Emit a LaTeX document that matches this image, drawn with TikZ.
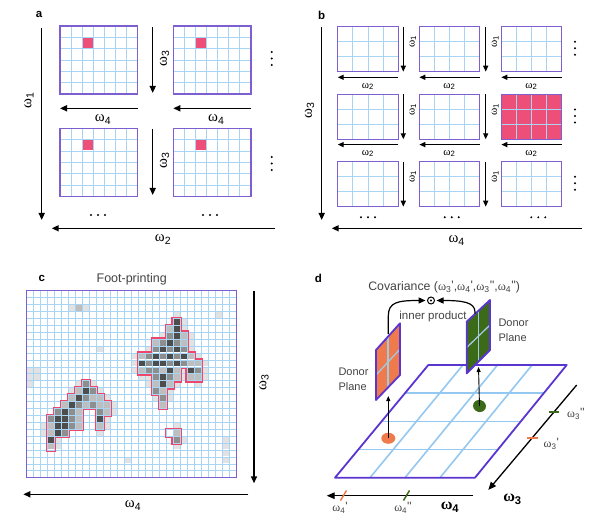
\documentclass[tikz,border=0pt]{standalone}
\usepackage{fontspec}
\setmainfont{Liberation Sans}
\newfontfamily\omf{Liberation Serif}
\usetikzlibrary{arrows.meta,calc,shapes.geometric}
\definecolor{gridb}{HTML}{A9D5F5}
\definecolor{floorb}{HTML}{94C8F0}
\definecolor{frm}{HTML}{7D5FD0}
\definecolor{frmd}{HTML}{5A35D0}
\definecolor{pnk}{HTML}{EE4F78}
\definecolor{redo}{HTML}{F0466A}
\definecolor{gD}{HTML}{4D4D4D}
\definecolor{gM}{HTML}{8E8E8E}
\definecolor{gL}{HTML}{BEBEBE}
\definecolor{gH}{HTML}{E2E2E2}
\definecolor{orn}{HTML}{EF7A4B}
\definecolor{grn}{HTML}{3B6A18}
\definecolor{txt}{HTML}{444444}
\definecolor{crossb}{HTML}{A2C8E2}
\newcommand\om[1]{{\omf ω}\textsubscript{#1}}
\newcommand\omp[2]{{\omf ω}\textsubscript{#1}\raisebox{0.1ex}{#2}}
\newcommand\qs{\textquotesingle}
\tikzset{
 gl/.style={draw=gridb, line width=0.9pt},
 floorgl/.style={draw=floorb, line width=1.6pt},
 frame/.style={draw=frm, line width=1.1pt},
 arr/.style={-{Triangle[length=7pt,width=6pt]}, line width=1.5pt},
 sarr/.style={-{Triangle[length=6pt,width=5pt]}, line width=1.3pt},
 tarr/.style={-{Triangle[length=5pt,width=4pt]}, line width=0.9pt},
 lab/.style={font=\fontsize{15}{15}\selectfont, inner sep=0pt},
 slab/.style={font=\fontsize{11}{11}\selectfont, inner sep=0pt},
 dlab/.style={font=\fontsize{12}{12}\selectfont, inner sep=0pt, text=txt},
 blab/.style={font=\fontsize{16}{16}\selectfont\bfseries, inner sep=0pt},
 panel/.style={font=\bfseries\fontsize{11.5}{11.5}\selectfont, inner sep=0pt},
 ttext/.style={font=\fontsize{11.5}{15}\selectfont, text=txt, inner sep=0pt},
 plane/.style={draw=frmd, line width=1.8pt, line join=round},
}
\newcommand\gridbox[7]{%
 \fill[#7] (#1,#2) rectangle (#3,#4);
 \foreach \i in {1,...,#5}{\draw[gl] ({#1+(#3-#1)*\i/(#5+1)},#2) -- ({#1+(#3-#1)*\i/(#5+1)},#4);}
 \foreach \j in {1,...,#6}{\draw[gl] (#1,{#2+(#4-#2)*\j/(#6+1)}) -- (#3,{#2+(#4-#2)*\j/(#6+1)});}
 \draw[frame] (#1,#2) rectangle (#3,#4);
}
\def\blobs{8/13,7/14,8/14,9/14,6/15,7/15,8/15,9/15,10/15,5/16,6/16,7/16,8/16,9/16,10/16,11/16,4/17,5/17,6/17,7/17,10/17,11/17,3/18,4/18,5/18,6/18,7/18,10/18,3/19,4/19,5/19,6/19,7/19,10/19,3/20,4/20,5/20,3/21,3/22,%
21/4,20/5,21/5,20/6,21/6,22/6,18/7,19/7,20/7,21/7,22/7,18/8,19/8,20/8,21/8,22/8,16/9,17/9,18/9,19/9,20/9,21/9,22/9,23/9,16/10,17/10,18/10,19/10,20/10,21/10,22/10,23/10,24/10,16/11,17/11,18/11,19/11,20/11,21/11,23/11,24/11,18/12,19/12,20/12,21/12,23/12,24/12,18/13,19/13,20/13,18/14,19/14,19/15,19/16,%
20/20,21/20,21/21}
\def\darkc{8/14,7/15,6/16,5/17,4/18,5/18,4/19,5/19,10/18,4/20,3/21,21/4,21/5,21/6,20/7,19/8,21/8,18/9,20/9,22/9,16/10,18/10,19/10,21/10,20/11,23/11,19/12,19/13}
\def\midc{8/13,9/14,8/15,7/16,9/16,4/17,6/17,10/17,3/18,6/18,6/19,5/20,20/6,19/7,21/7,18/8,20/8,22/8,17/9,19/9,21/9,17/10,20/10,22/10,17/11,18/11,24/11,18/12,20/12,18/14,19/15,21/21}
\def\lightc{7/14,6/15,9/15,10/15,5/16,8/16,10/16,11/16,7/17,11/17,7/18,3/19,7/19,10/19,3/20,3/22,20/5,22/6,18/7,22/7,16/9,23/9,23/10,24/10,16/11,19/11,21/11,21/12,23/12,24/12,18/13,20/13,19/14,19/16,21/20,7/2}
\def\haloc{9/13,10/14,11/15,12/16,12/17,11/18,11/19,10/20,2/19,2/20,4/21,4/22,7/13,6/14,21/3,22/4,22/5,23/6,23/7,23/8,24/9,25/10,25/11,25/12,24/13,22/11,22/12,21/13,20/14,20/15,18/15,15/9,15/10,15/11,16/12,17/12,17/13,17/8,19/6,6/2,8/2,10/8,0/11,1/11,0/12,1/12,0/13,14/24,28/21,28/22,28/23,28/24,27/3,21/19,22/21,21/22}
\begin{document}
\begin{tikzpicture}[x=1pt,y=-1pt]
\useasboundingbox (0,0) rectangle (610,529);
\fill[white] (0,0) rectangle (610,529);
% ================= Panel a
\node[panel] (pa) at (39,14) {a};
\foreach \x in {60,173.3}{\foreach \y in {26,128.3}{
 \gridbox{\x}{\y}{\x+77.7}{\y+68}{6}{5}{white}
 \fill[pnk] ({\x+22.8},{\y+11.9}) rectangle ({\x+32.7},{\y+22.1});
}}
\coordinate (a1s) at (41.7,28); \coordinate (a1e) at (41.7,220);
\draw[arr] (a1s) -- (a1e);
\node[lab, rotate=90] (la1) at (29,100) {\om{1}};
\coordinate (a2s) at (275,228.3); \coordinate (a2e) at (51.7,228.3);
\draw[arr] (a2s) -- (a2e);
\node[lab] (la2) at (163,239.5) {\om{2}};
\foreach \y/\n in {27/1,129/2}{
 \coordinate (a3s\n) at (152.7,\y); \coordinate (a3e\n) at (152.7,\y+66);
 \draw[arr] (a3s\n) -- (a3e\n);
 \node[lab, rotate=90] (la3\n) at (164.5,\y+31) {\om{3}};
}
\foreach \x/\n in {60/1,173.3/2}{
 \coordinate (a4s\n) at (\x+77.7,108.3); \coordinate (a4e\n) at (\x,108.3);
 \draw[arr] (a4s\n) -- (a4e\n);
 \node[lab] (la4\n) at (\x+43,119.5) {\om{4}};
}
\foreach \y in {58.5,163.5}{\foreach \d in {-6.5,0,6.5}{\fill (271.7,\y+\d) circle (1.1);}}
\foreach \x in {98,210}{\foreach \d in {-7,0,7}{\fill (\x+\d,215) circle (1.1);}}
% ================= Panel b
\node[panel] (pb) at (321.7,15) {b};
\foreach \x/\i in {337.7/1,419.3/2,501.3/3}{\foreach \y/\j in {26.7/1,94.3/2,161.7/3}{
 \ifnum\i\j=32 \gridbox{\x}{\y}{\x+60.5}{\y+45}{3}{2}{pnk}\else \gridbox{\x}{\y}{\x+60.5}{\y+45}{3}{2}{white}\fi
}}
\foreach \x/\i in {403.3/1,485.7/2}{\foreach \y/\j in {26.7/1,94.3/2,161.7/3}{
 \coordinate (b1s\i\j) at (\x,\y); \coordinate (b1e\i\j) at (\x,\y+45);
 \draw[sarr] (b1s\i\j) -- (b1e\i\j);
 \node[slab, rotate=90] (lb1\i\j) at (\x+9.5,\y+15) {\om{1}};
}}
\foreach \x/\i in {337.7/1,419.3/2,501.3/3}{\foreach \y/\j in {77.3/1,144.6/2}{
 \coordinate (b2s\i\j) at (\x+60.5,\y); \coordinate (b2e\i\j) at (\x,\y);
 \draw[sarr] (b2s\i\j) -- (b2e\i\j);
 \node[slab] (lb2\i\j) at (\x+30.2,\y+9) {\om{2}};
}}
\foreach \y in {48.3,116,183.3}{\foreach \d in {-6.5,0,6.5}{\fill (575,\y+\d) circle (1.1);}}
\foreach \x in {368,451.7,538.3}{\foreach \d in {-7,0,7}{\fill (\x+\d,217.3) circle (1.1);}}
\coordinate (b3s) at (321.7,26.7); \coordinate (b3e) at (321.7,220);
\draw[arr] (b3s) -- (b3e);
\node[lab, rotate=90] (lb3) at (309.5,110) {\om{3}};
\coordinate (b4s) at (581.7,228.3); \coordinate (b4e) at (331.7,228.3);
\draw[arr] (b4s) -- (b4e);
\node[lab] (lb4) at (456.7,240.5) {\om{4}};
% ================= Panel c
\node[panel] (pc) at (41.7,278.3) {c};
\node[ttext, font=\fontsize{12.5}{14}\selectfont] (fp) at (131.7,279.5) {Foot-printing};
\fill[white] (26.7,290.7) rectangle (236.1,477.8);
\foreach \c/\r in \haloc {\fill[gH] ({26.7+6.98*\c+0.6},{290.7+6.93*\r+0.6}) rectangle ++(5.78,5.73);}
\foreach \i in {1,...,29}{\draw[gl, line width=0.8pt] ({26.7+6.98*\i},290.7) -- ++(0,187.1);}
\foreach \j in {1,...,26}{\draw[gl, line width=0.8pt] (26.7,{290.7+6.93*\j}) -- ++(209.4,0);}
\foreach \c/\r in \blobs {\draw[redo, line width=3.6pt] ({26.7+6.98*\c},{290.7+6.93*\r}) rectangle ++(6.98,6.93);}
\foreach \c/\r in \blobs {\fill[white] ({26.7+6.98*\c},{290.7+6.93*\r}) rectangle ++(6.98,6.93);}
\foreach \c/\r in \darkc {\fill[gD] ({26.7+6.98*\c+0.6},{290.7+6.93*\r+0.6}) rectangle ++(5.78,5.73);}
\foreach \c/\r in \midc {\fill[gM] ({26.7+6.98*\c+0.6},{290.7+6.93*\r+0.6}) rectangle ++(5.78,5.73);}
\foreach \c/\r in \lightc {\fill[gL] ({26.7+6.98*\c+0.6},{290.7+6.93*\r+0.6}) rectangle ++(5.78,5.73);}
\foreach \c/\r in \blobs {\draw[gl, line width=0.8pt] ({26.7+6.98*\c},{290.7+6.93*\r}) rectangle ++(6.98,6.93);}
\draw[frame] (26.7,290.7) rectangle (236.1,477.8);
\coordinate (c3s) at (254,290.7); \coordinate (c3e) at (254,483.3);
\draw[arr] (c3s) -- (c3e);
\node[lab, rotate=90] (lc3) at (264,382) {\om{3}};
\coordinate (c4s) at (248.3,494.3); \coordinate (c4e) at (23.3,494.3);
\draw[arr] (c4s) -- (c4e);
\node[lab] (lc4) at (133,505.5) {\om{4}};
% ================= Panel d
\node[panel] (pd) at (318.3,278.3) {d};
\node[dlab, font=\fontsize{12.3}{13}\selectfont] (cov) at (444.2,287) {Covariance (\omp{3}{\qs},\omp{4}{\qs},\omp{3}{\qs\qs},\omp{4}{\qs\qs})};
\coordinate (TL) at (428.3,365); \coordinate (TR) at (566.7,365);
\coordinate (BR) at (475,477.7); \coordinate (BL) at (335,477.7);
\fill[white] (TL) -- (TR) -- (BR) -- (BL) -- cycle;
\draw[floorgl] (405,393.2) -- (543.8,393.2);
\draw[floorgl] (381.7,421.4) -- (520.9,421.4);
\draw[floorgl] (358.3,449.5) -- (497.9,449.5);
\draw[floorgl] (462.9,365) -- (370,477.7);
\draw[floorgl] (497.5,365) -- (405,477.7);
\draw[floorgl] (532.1,365) -- (440,477.7);
\draw[plane] (TL) -- (TR) -- (BR) -- (BL) -- cycle;
\node[ellipse, fill=orn, minimum width=14pt, minimum height=11pt, inner sep=0pt] (eo) at (388.3,438.3) {};
\node[ellipse, fill=grn, minimum width=13pt, minimum height=12pt, inner sep=0pt, rotate=-20] (eg) at (479.5,406) {};
\coordinate (eot) at (388.3,396); \coordinate (egt) at (478.5,367);
\draw[tarr] (eo.center) -- (eot);
\draw[tarr] (eg.center) -- (egt);
% orange plane
\coordinate (o1) at (376,350); \coordinate (o2) at (400,323.3); \coordinate (o3) at (400,375); \coordinate (o4) at (376,400);
\fill[orn] (o1) -- (o2) -- (o3) -- (o4) -- cycle;
\draw[crossb, line width=1.3pt] ($(o1)!0.5!(o2)$) -- ($(o4)!0.5!(o3)$);
\draw[crossb, line width=1.3pt] ($(o1)!0.5!(o4)$) -- ($(o2)!0.5!(o3)$);
\draw[plane] (o1) -- (o2) -- (o3) -- (o4) -- cycle;
% green plane
\coordinate (g1) at (466.7,321.7); \coordinate (g2) at (490,300); \coordinate (g3) at (490,350); \coordinate (g4) at (466.7,373.3);
\fill[grn] (g1) -- (g2) -- (g3) -- (g4) -- cycle;
\draw[crossb, line width=1.3pt] ($(g1)!0.5!(g2)$) -- ($(g4)!0.5!(g3)$);
\draw[crossb, line width=1.3pt] ($(g1)!0.5!(g4)$) -- ($(g2)!0.5!(g3)$);
\draw[plane] (g1) -- (g2) -- (g3) -- (g4) -- cycle;
% inner product
\node[circle, draw, line width=1pt, minimum size=7pt, inner sep=0pt] (odot) at (431,300.5) {};
\fill (odot.center) circle (1.1);
\node[dlab, font=\fontsize{11.5}{12}\selectfont] (inp) at (433,317) {inner product};
\coordinate (ost) at (388.3,334); \coordinate (gst) at (475,313.5);
\draw[-{Triangle[length=7pt,width=6pt]}, line width=1.2pt, shorten >=1.5pt] (ost) -- (388.3,316) .. controls (388.3,302) and (398,300.5) .. (odot.west);
\draw[-{Triangle[length=7pt,width=6pt]}, line width=1.2pt, shorten >=1.5pt] (gst) -- (475,312) .. controls (475,302) and (462,300.5) .. (odot.east);
\node[dlab, font=\fontsize{11}{15}\selectfont, align=left, anchor=west] (dl) at (338.3,379.5) {Donor\\Plane};
\node[dlab, font=\fontsize{11}{15}\selectfont, align=left, anchor=west] (dr) at (498.3,330.5) {Donor\\Plane};
% w3 axis
\coordinate (w3s) at (576.7,385); \coordinate (w3e) at (488.3,490);
\draw[-{Triangle[length=8pt,width=6.5pt]}, line width=1.3pt] (w3s) -- (w3e);
\draw[grn, line width=1.6pt] ($(w3s)!0.257!(w3e)+(-5,0)$) -- ++(10,0);
\draw[orn, line width=1.6pt] ($(w3s)!0.505!(w3e)+(-5.5,0)$) -- ++(11,0);
\node[dlab, anchor=west] (w3pp) at (567,414) {\omp{3}{\qs\qs}};
\node[dlab, anchor=west] (w3p) at (543.5,444) {\omp{3}{\qs}};
\node[blab] (w3) at (512.5,499) {{\omf ω}\textsubscript{3}};
% w4 axis
\coordinate (w4s) at (473.3,495.7); \coordinate (w4e) at (326.7,495.7);
\draw[-{Triangle[length=8pt,width=6.5pt]}, line width=1.3pt] (w4s) -- (w4e);
\draw[orn, line width=1.5pt] (340.5,500.5) -- (346.5,490.5);
\draw[grn, line width=1.5pt] (403.5,500.5) -- (409.5,490.5);
\node[dlab] (w4p) at (340,508) {\omp{4}{\qs}};
\node[dlab] (w4pp) at (403,508) {\omp{4}{\qs\qs}};
\node[blab] (w4) at (450,507.5) {{\omf ω}\textsubscript{4}};
\end{tikzpicture}
\end{document}
